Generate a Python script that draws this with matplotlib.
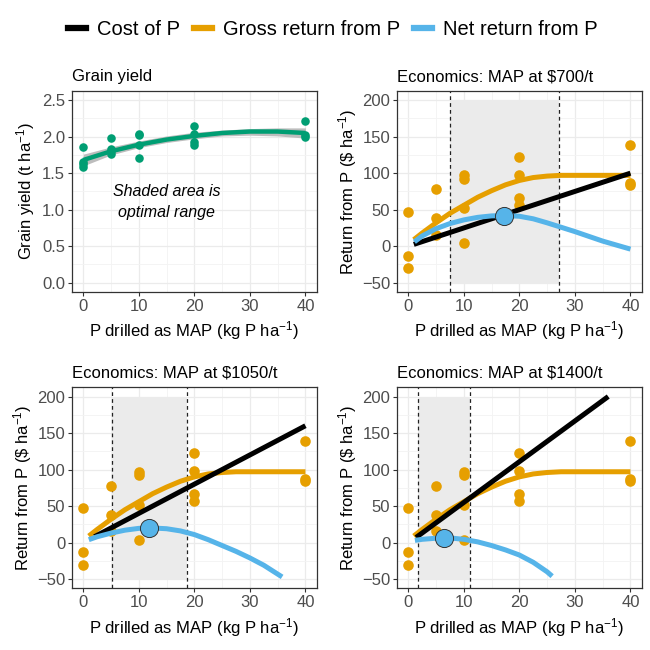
import numpy as np
import matplotlib
matplotlib.use("Agg")
import matplotlib.pyplot as plt
from matplotlib.lines import Line2D
from matplotlib.ticker import MultipleLocator, FormatStrFormatter

plt.rcParams['font.family'] = ['Liberation Sans', 'DejaVu Sans']
plt.rcParams['mathtext.fontset'] = 'custom'
plt.rcParams['mathtext.rm'] = 'Liberation Sans'
plt.rcParams['mathtext.it'] = 'Liberation Sans:italic'

# grain yield observations
yield_x = [0, 0, 0, 0, 5, 5, 5, 5, 10, 10, 10, 10, 20, 20, 20, 20, 40, 40, 40]
yield_y = [1.86, 1.65, 1.58, 1.62, 1.98, 1.83, 1.76, 1.80, 2.04, 2.02, 1.89, 1.71,
           2.14, 2.04, 1.93, 1.89, 2.21, 2.02, 2.00]

# fitted yield curve with band
fit_x = [0, 5, 10, 15, 20, 25, 30, 35, 40]
fit_y = [1.68, 1.80, 1.89, 1.96, 2.01, 2.05, 2.07, 2.07, 2.05]
fit_lo = [1.60, 1.75, 1.85, 1.92, 1.97, 2.01, 2.02, 2.01, 1.98]
fit_hi = [1.76, 1.86, 1.94, 2.01, 2.06, 2.09, 2.11, 2.12, 2.12]

# gross return observations (same in every economics panel)
gross_x = [0, 0, 0, 5, 5, 5, 10, 10, 10, 10, 20, 20, 20, 20, 40, 40, 40]
gross_y = [47, -13, -30, 78, 38, 16, 97, 92, 52, 4, 122, 98, 66, 57, 139, 87, 84]

# gross return curve
gcurve_x = [1, 2.5, 5, 7.5, 10, 12.5, 15, 17.5, 20, 22.5, 25, 27.5, 30, 35, 40]
gcurve_y = [9, 18, 32, 45, 56, 67, 76, 84, 90, 94, 96, 97, 97, 97, 97]

prices = ["$700/t", "$1050/t", "$1400/t"]

cost_x = [[1, 40], [2, 40], [1.4, 36]]
cost_y = [[2.5, 100], [8, 160], [7, 200]]

net_x = [
    [1.1, 2.5, 5, 7.5, 10, 12.5, 15, 17.5, 20, 22.5, 25, 27.5, 30, 32.5, 35, 37.5, 40],
    [1, 2.5, 5, 7.5, 10, 12.5, 15, 17.5, 20, 22.5, 25, 27.5, 30, 32.5, 35.8],
    [1.2, 2.5, 5, 6.5, 8, 10, 12.5, 15, 17.5, 20, 22.5, 25, 25.9],
]
net_y = [
    [6, 14, 24, 31, 36, 39.5, 41.5, 42, 41, 37.5, 32, 26, 20, 13.5, 7, 1.5, -4],
    [4, 8, 13, 17, 19.5, 20, 19, 16, 11, 4, -4, -12, -21, -31, -47],
    [3, 4.5, 6, 6.3, 6, 4.5, 1, -4, -10, -17, -27, -40, -46],
]

opt_x = [17.3, 11.8, 6.5]
opt_y = [42, 20, 6]
range_lo = [7.5, 5.1, 1.7]
range_hi = [27.2, 18.7, 11.2]

col_cost = "black"
col_gross = "#E69F00"
col_net = "#56B4E9"
col_green = "#009E73"

fig = plt.figure(figsize=(6.5, 6.5), dpi=100)

lefts = [0.111, 0.611]
bottoms = [0.551, 0.095]
w, h = 0.376, 0.309


def style(ax):
    ax.set_facecolor("white")
    ax.xaxis.set_major_locator(MultipleLocator(10))
    ax.xaxis.set_minor_locator(MultipleLocator(5))
    ax.grid(True, which="major", color="#EBEBEB", linewidth=0.9)
    ax.grid(True, which="minor", color="#F3F3F3", linewidth=0.6)
    ax.set_axisbelow(True)
    for s in ax.spines.values():
        s.set_color("#333333")
        s.set_linewidth(0.9)
    ax.tick_params(which="major", length=3, width=0.8, color="#333333",
                   labelsize=12, labelcolor="#4D4D4D", pad=2)
    ax.tick_params(which="minor", length=0)
    ax.set_xlim(-2, 42)
    ax.set_xlabel(r"P drilled as MAP (kg P ha$^{-1}$)", fontsize=12, labelpad=4)


# grain yield panel
ax = fig.add_axes([lefts[0], bottoms[0], w, h])
style(ax)
ax.set_ylim(-0.125, 2.625)
ax.yaxis.set_major_locator(MultipleLocator(0.5))
ax.yaxis.set_minor_locator(MultipleLocator(0.25))
ax.yaxis.set_major_formatter(FormatStrFormatter("%.1f"))
ax.fill_between(fit_x, fit_lo, fit_hi, color="#BDBDBD", linewidth=0, zorder=2)
ax.scatter(yield_x, yield_y, s=38, color=col_green, zorder=3, linewidths=0)
ax.plot(fit_x, fit_y, color=col_green, linewidth=3.2, zorder=4, solid_capstyle="butt")
ax.text(15, 1.1, "Shaded area is\noptimal range", fontsize=11.5, style="italic",
        ha="center", va="center", linespacing=1.5)
ax.set_ylabel(r"Grain yield (t ha$^{-1}$)", fontsize=12, labelpad=4)
ax.set_title("Grain yield", fontsize=12, loc="left", pad=7)

# economics panels
pos = [(lefts[1], bottoms[0]), (lefts[0], bottoms[1]), (lefts[1], bottoms[1])]
for i in range(3):
    ax = fig.add_axes([pos[i][0], pos[i][1], w, h])
    style(ax)
    ax.set_ylim(-62.5, 212.5)
    ax.yaxis.set_major_locator(MultipleLocator(50))
    ax.yaxis.set_minor_locator(MultipleLocator(25))
    ax.fill_between([range_lo[i], range_hi[i]], -50, 200, color="#EBEBEB", linewidth=0, zorder=1)
    ax.axvline(range_lo[i], color="#222222", linestyle=(0, (3, 2.5)), linewidth=0.9, zorder=2)
    ax.axvline(range_hi[i], color="#222222", linestyle=(0, (3, 2.5)), linewidth=0.9, zorder=2)
    ax.scatter(gross_x, gross_y, s=58, color=col_gross, zorder=3, linewidths=0)
    ax.plot(gcurve_x, gcurve_y, color=col_gross, linewidth=3.6, zorder=4, solid_capstyle="butt")
    ax.plot(cost_x[i], cost_y[i], color=col_cost, linewidth=3.6, zorder=5, solid_capstyle="butt")
    ax.plot(net_x[i], net_y[i], color=col_net, linewidth=3.6, zorder=6, solid_capstyle="butt")
    ax.scatter([opt_x[i]], [opt_y[i]], s=170, color=col_net, edgecolors="#333333",
               linewidths=0.7, zorder=7)
    ax.set_ylabel(r"Return from P (\$ ha$^{-1}$)", fontsize=12, labelpad=2)
    ax.set_title(f"Economics: MAP at {prices[i]}", fontsize=12, loc="left", pad=7)

handles = [Line2D([0], [0], color=c, linewidth=4.5) for c in (col_cost, col_gross, col_net)]
fig.legend(handles, ["Cost of P", "Gross return from P", "Net return from P"],
           loc="center", bbox_to_anchor=(0.512, 0.954), ncol=3, frameon=False,
           fontsize=14.5, handlelength=0.9, handletextpad=0.55, columnspacing=0.7)

fig.savefig("out.png", dpi=100, facecolor="white")
